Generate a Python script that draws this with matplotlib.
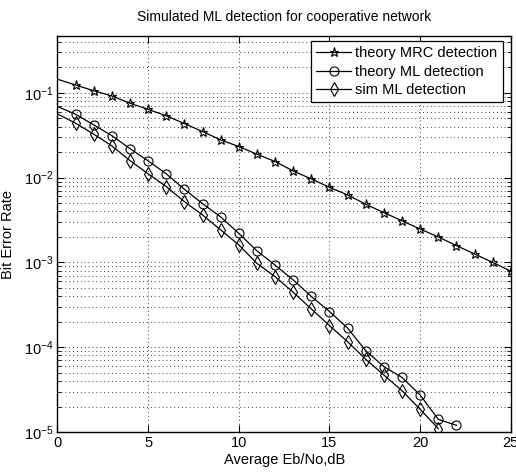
import numpy as np
import matplotlib
matplotlib.use("Agg")
import matplotlib.pyplot as plt
from matplotlib.ticker import LogLocator, NullFormatter

plt.rcParams['font.family'] = ['Liberation Sans', 'DejaVu Sans']
plt.rcParams['mathtext.fontset'] = 'custom'
plt.rcParams['mathtext.rm'] = 'Liberation Sans'

# Eb/No in dB
snr_db = np.arange(0, 26)

# theory MRC detection (stars), 0..25 dB
ber_mrc = [0.145, 0.124, 0.106, 0.092, 0.0755, 0.064, 0.0536, 0.0435, 0.035,
           0.0279, 0.0233, 0.0189, 0.0155, 0.012, 0.00966, 0.0077, 0.00625,
           0.00486, 0.00387, 0.0031, 0.00248, 0.002, 0.00158, 0.00126, 0.001,
           0.00079]

# theory ML detection (circles), 0..22 dB
ber_ml = [0.069, 0.056, 0.0419, 0.0313, 0.022, 0.0158, 0.0111, 0.0073, 0.00494,
          0.00344, 0.0022, 0.00137, 0.00093, 0.000622, 0.000397, 0.000264,
          0.000168, 9.1e-5, 5.9e-5, 4.4e-5, 2.73e-5, 1.41e-5, 1.2e-5]

# simulated ML detection (diamonds), 0..21 dB
ber_sim = [0.0565, 0.0439, 0.0326, 0.0237, 0.0159, 0.0111, 0.00785, 0.00521,
           0.00363, 0.00242, 0.00161, 0.000975, 0.00068, 0.000445, 0.000283,
           0.00018, 0.000116, 7.2e-5, 4.7e-5, 3.07e-5, 1.85e-5, 1.1e-5]

fig = plt.figure(figsize=(5.16, 4.72), dpi=100)
ax = fig.add_axes([0.1114, 0.0847, 0.8786, 0.839])

ax.semilogy(snr_db, ber_mrc, 'k-', marker='*', markevery=slice(1, None),
            markersize=6.5, markerfacecolor='none', markeredgewidth=0.8,
            linewidth=0.9, label='theory MRC detection')
ax.semilogy(snr_db[:len(ber_ml)], ber_ml, 'k-', marker='o', markevery=slice(1, None),
            markersize=6.5, markerfacecolor='none', markeredgewidth=0.8,
            linewidth=0.9, label='theory ML detection')
ax.semilogy(snr_db[:len(ber_sim)], ber_sim, 'k-', marker='d', markevery=slice(1, None),
            markersize=7, markerfacecolor='none', markeredgewidth=0.8,
            linewidth=0.9, label='sim ML detection')

ax.set_xlim(0, 25)
ax.set_ylim(1e-5, 0.469)
ax.set_xticks([0, 5, 10, 15, 20, 25])
ax.yaxis.set_major_locator(LogLocator(base=10, numticks=10))
ax.yaxis.set_minor_locator(LogLocator(base=10, subs=np.arange(2, 10), numticks=20))
ax.yaxis.set_minor_formatter(NullFormatter())

dots = (0, (1, 3))
ax.grid(True, which='major', linestyle=dots, color='0.25', linewidth=0.7)
ax.grid(True, which='minor', axis='y', linestyle=dots, color='0.25', linewidth=0.7)
ax.tick_params(which='both', direction='in', top=True, right=True, labelsize=10.5)
ax.tick_params(which='major', length=5, pad=3)
ax.tick_params(which='minor', length=3)
for s in ax.spines.values():
    s.set_linewidth(1.0)

ax.set_title('Simulated ML detection for cooperative network', fontsize=10, pad=11)
ax.set_xlabel('Average Eb/No,dB', fontsize=10.5, labelpad=2)
ax.set_ylabel('Bit Error Rate', fontsize=10.5, labelpad=6)

leg = ax.legend(loc='upper right', bbox_to_anchor=(0.982, 0.987), borderaxespad=0,
                fontsize=10.5, fancybox=False, framealpha=1, edgecolor='black',
                handlelength=2.4, labelspacing=0.3, borderpad=0.35, handletextpad=0.3)
leg.get_frame().set_linewidth(0.9)

fig.savefig('out.png', dpi=100)
